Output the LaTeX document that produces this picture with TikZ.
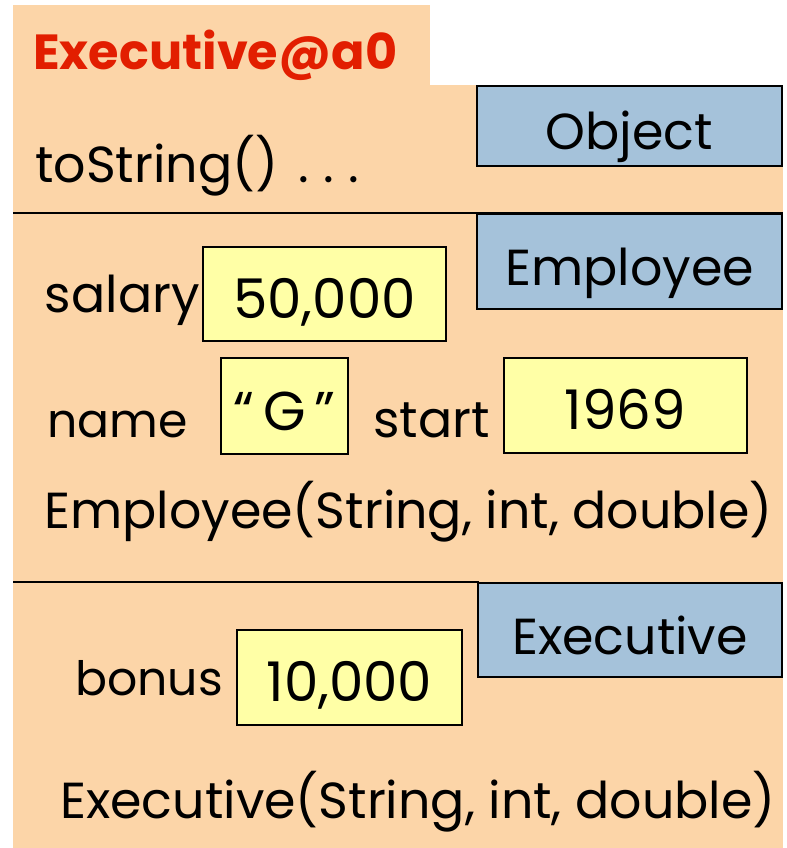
\documentclass[tikz,border=0pt]{standalone}
\usepackage{fontspec}
\setmainfont{Poppins}
\usetikzlibrary{positioning}
\definecolor{peach}{RGB}{252,213,168}
\definecolor{clsblue}{RGB}{165,194,218}
\definecolor{valyellow}{RGB}{255,255,166}
\definecolor{titlered}{RGB}{226,30,0}
\newcommand{\bigtxt}{\fontsize{38}{38}\selectfont}
\newcommand{\valtxt}{\fontsize{41}{41}\selectfont}
\newcommand{\lbltxt}{\fontsize{35.5}{35.5}\selectfont}
\tikzset{
  classbox/.style={draw=black, fill=clsblue, line width=2pt, inner sep=0pt, font=\bigtxt,
    text height=36pt, text depth=0pt},
  valbox/.style={draw=black, fill=valyellow, line width=1.4pt, inner sep=0pt, font=\valtxt,
    text height=36pt, text depth=0pt},
  lbl/.style={inner sep=0pt, font=\bigtxt},
  sepline/.style={line width=2pt},
  cell/.style 2 args={minimum width=#1*0.75pt, minimum height=#2*0.75pt}
}

\begin{document}
\begin{tikzpicture}[x=0.75pt, y=-0.75pt]
		\useasboundingbox (0,0) rectangle (787,848);
		
		% object background
		\fill[peach] (13,5) rectangle (430,86);
		\fill[peach] (13,85) rectangle (783,848);
		\node[lbl, anchor=base west, text=titlered, font=\fontsize{37}{37}\selectfont\bfseries] (title) at (33,70) {Executive@a0};
		
		% Object part
		\node[lbl, anchor=base west] (tostr) at (35,183) {toString()\hspace{0.4em}.\hspace{0.28em}.\hspace{0.28em}.};
		\node[classbox, cell={305}{80}] (objcls) at (629.5,126) {Object};
		\coordinate (sepA) at (13,213);
		\draw[sepline] (sepA) -- ++(770,0);
		
		% Employee part
		\node[classbox, cell={305}{95}] (empcls) at (629.5,261.5) {Employee};
		\node[valbox, cell={243}{94}] (salval) at (324.5,294) {50,000};
		\node[lbl, anchor=base east] (sallbl) at (200,312) {salary};
		\node[valbox, cell={127}{96}] (nameval) at (284.5,406) {“\,G\,”};
		\node[lbl, anchor=base west, font=\lbltxt] (namelbl) at (47,437) {name};
		\node[lbl, anchor=base west] (startlbl) at (373,437) {start};
		\node[valbox, cell={243}{95}] (startval) at (625.5,405.5) {1969};
		\node[lbl, anchor=base west] (empctor) at (44,528) {Employee(String, int, double)};
		\coordinate (sepB) at (13,582);
		\draw[sepline] (sepB) -- ++(466,0);
		
		% Executive part
		\node[classbox, cell={304}{94}] (execls) at (630,630) {Executive};
		\node[valbox, cell={225}{95}] (bonval) at (349.5,677.5) {10,000};
		\node[lbl, anchor=base west, font=\lbltxt] (bonlbl) at (75,695) {bonus};
		\node[lbl, anchor=base west] (exector) at (60,818) {Executive(String, int, double)};
		
\end{tikzpicture}
\end{document}
